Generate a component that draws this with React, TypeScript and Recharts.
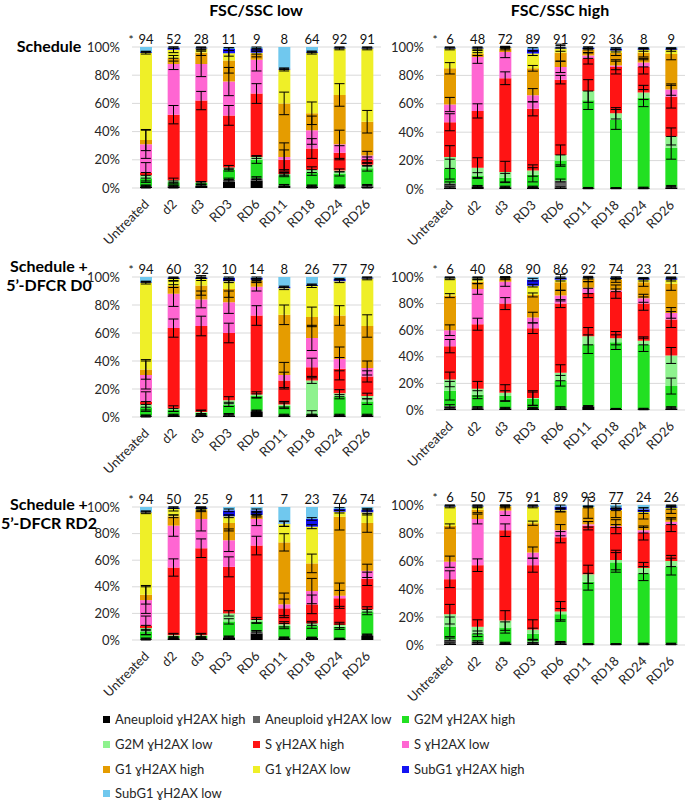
import React from 'react';
import { ComposedChart, Bar, Line, ErrorBar, XAxis, YAxis, CartesianGrid, LabelList } from 'recharts';

const FONT = "Lato, 'Noto Sans', sans-serif";

const categories = ['Untreated', 'd2', 'd3', 'RD3', 'RD6', 'RD11', 'RD18', 'RD24', 'RD26'];
const seriesNames = [
  'Aneuploid ɣH2AX high', 'Aneuploid ɣH2AX low', 'G2M ɣH2AX high',
  'G2M ɣH2AX low', 'S ɣH2AX high', 'S ɣH2AX low',
  'G1 ɣH2AX high', 'G1 ɣH2AX low', 'SubG1 ɣH2AX high',
  'SubG1 ɣH2AX low',
];
const seriesColors = ['#000000', '#636363', '#22e022', '#8ef28e', '#ff1414', '#ff66d2', '#e59c00', '#efef28', '#1414f2', '#70c8ee'];
const yTicks = [0, 20, 40, 60, 80, 100];

// ---------- Panel 1: Schedule, FSC/SSC low ----------
const p1_counts = [94, 52, 28, 11, 9, 8, 64, 92, 91];
const p1_aneuH = [1, 1, 1.5, 4.5, 5, 1.5, 1, 1, 1];
const p1_aneuL = [0.5, 0.5, 0.5, 1.5, 2, 0.5, 0.5, 0.5, 1];
const p1_g2mH = [5.5, 2.5, 1.5, 7, 13, 7, 9.5, 8.5, 12];
const p1_g2mL = [2, 1.5, 0.5, 1.5, 2, 1, 2, 2.5, 2.5];
const p1_sH = [2, 46.5, 58, 37, 45, 10, 15, 12.5, 3.5];
const p1_sL = [20, 36, 26, 24, 24, 2, 13, 6, 3];
const p1_g1H = [3, 4, 8, 15, 4, 38, 12, 35, 24];
const p1_g1L = [62, 6, 3, 5, 1, 24, 43, 33, 52];
const p1_subH = [0.5, 1.5, 0.5, 3, 3, 0.5, 0.5, 0.5, 0.5];
const p1_subL = [3.5, 0.5, 0.5, 1.5, 1, 15.5, 3.5, 0.5, 0.5];
const p1e_aneuH = [1, 1, 1, 1.5, 2, 1, 1, 1, 1];
const p1e_aneuL = [0.5, 0.5, 0.5, 1, 1, 0.5, 0.5, 0.5, 0.5];
const p1e_g2mH = [2, 1, 1, 1, 2.5, 1, 2, 1.5, 2];
const p1e_g2mL = [2, 1.5, 0.5, 1.5, 1, 1, 2, 1, 1];
const p1e_sH = [7, 6.5, 6.5, 7, 7, 7, 7, 5, 2];
const p1e_sL = [10, 4, 9, 10, 8, 10, 10, 10, 3];
const p1e_g1H = [7.5, 2, 2, 9, 2, 8, 8, 8, 8];
const p1e_g1L = [1, 2, 1, 2, 1, 1, 1, 1, 1];
const p1e_subH = [0.3, 0.5, 0.3, 1, 1, 0.5, 0.5, 0.3, 0.3];

// ---------- Panel 2: Schedule, FSC/SSC high ----------
const p2_counts = [6, 48, 72, 89, 91, 92, 36, 8, 9];
const p2_aneuH = [1, 1.5, 1, 1, 1, 0.5, 0.5, 0.5, 1];
const p2_aneuL = [3, 0.5, 0.5, 0.5, 5, 0.3, 0.2, 0.5, 1];
const p2_g2mH = [10, 7.5, 6.5, 8.5, 14, 61.7, 48.3, 63, 27];
const p2_g2mL = [8.5, 5.5, 4, 3, 4, 6.5, 4.3, 4, 8];
const p2_sH = [24.5, 40, 66, 43.5, 53, 23, 32.7, 18, 28];
const p2_sL = [12.5, 38, 18.5, 9.5, 9, 2, 1, 3, 5];
const p2_g1H = [25.5, 2, 2.5, 19, 10, 4, 9, 7, 25];
const p2_g1L = [14, 4, 0.5, 10.5, 3, 0.5, 1.5, 2, 3];
const p2_subH = [0.5, 0.5, 0.3, 3, 0.5, 1, 1.5, 1, 1];
const p2_subL = [0.5, 0.5, 0.2, 1.5, 0.5, 0.5, 1, 1, 1];
const p2e_aneuH = [0.5, 0.5, 0.5, 0.5, 0.5, 0.3, 0.3, 0.3, 0.5];
const p2e_aneuL = [1, 0.5, 0.5, 0.5, 1, 0.3, 0.2, 0.3, 0.5];
const p2e_g2mH = [7, 2, 3, 5, 4, 6.5, 7, 6, 8];
const p2e_g2mL = [8, 7, 7.5, 4, 7, 8, 4, 5, 6];
const p2e_sH = [6, 5, 4.5, 5, 3, 4, 5, 5, 8];
const p2e_sL = [5, 4.5, 4, 4.7, 4, 2, 3, 3, 4];
const p2e_g1H = [4, 1, 1, 2, 6, 2, 2, 3, 4];
const p2e_g1L = [1, 1, 0.5, 1.5, 2, 0.5, 1, 1, 1];
const p2e_subH = [0.3, 0.3, 0.2, 1, 0.3, 0.5, 0.5, 0.5, 0.5];

// ---------- Panel 3: Schedule + 5'-DFCR D0, low ----------
const p3_counts = [94, 60, 32, 10, 14, 8, 26, 77, 79];
const p3_aneuH = [0.5, 1, 1, 1, 3.5, 1, 1, 1, 1];
const p3_aneuL = [0.5, 0.5, 0.5, 1, 1, 0.5, 0.5, 0.5, 0.5];
const p3_g2mH = [6, 3.5, 1.5, 7, 10.5, 6.5, 1, 13, 9.5];
const p3_g2mL = [2, 1, 0.5, 3, 1, 1, 23.5, 2.5, 4];
const p3_sH = [2, 57.5, 61.5, 48, 56.5, 17, 9.5, 17.5, 14];
const p3_sL = [19, 24.5, 19, 22, 20.5, 4, 21, 7, 6];
const p3_g1H = [4, 5.5, 10, 9.5, 4.5, 43, 15, 31, 30];
const p3_g1L = [62, 5, 4.5, 5.5, 0.5, 19, 22, 24.5, 34];
const p3_subH = [0.5, 1, 1, 2.5, 1.5, 1, 1, 1.5, 0.5];
const p3_subL = [3.5, 0.5, 0.5, 0.5, 0.5, 7, 5.5, 1.5, 0.5];
const p3e_aneuH = [0.5, 0.5, 0.5, 0.5, 1, 0.5, 0.5, 0.5, 0.5];
const p3e_aneuL = [0.5, 0.5, 0.5, 0.5, 0.5, 0.5, 0.5, 0.5, 0.5];
const p3e_g2mH = [2, 1, 2, 1.5, 1.5, 2, 2, 1.5, 2];
const p3e_g2mL = [2, 2, 1, 2.5, 2, 2, 2, 2.5, 2];
const p3e_sH = [7, 6.5, 7, 7, 7, 6, 6.5, 8, 4];
const p3e_sL = [10, 9, 6, 8, 3, 9, 9, 8.5, 5];
const p3e_g1H = [7, 1, 7, 6, 1, 7, 7, 7, 8];
const p3e_g1L = [1, 1, 1, 1, 0.5, 1, 1, 1, 1];
const p3e_subH = [0.3, 0.5, 0.5, 0.5, 0.5, 0.5, 0.5, 0.5, 0.3];

// ---------- Panel 4: Schedule + 5'-DFCR D0, high ----------
const p4_counts = [6, 40, 68, 90, 86, 92, 74, 23, 21];
const p4_aneuH = [1, 1, 1, 1, 1, 2.5, 0.7, 0.5, 1];
const p4_aneuL = [2, 1, 0.5, 0.5, 1, 0.5, 0.3, 0.5, 1];
const p4_g2mH = [11.5, 9.5, 9, 7, 20, 46.5, 50, 48, 16];
const p4_g2mL = [8.5, 4.5, 2.5, 0.5, 6, 6, 3, 3, 23];
const p4_sH = [25, 48.5, 67, 52.5, 52, 32.5, 35, 28, 27];
const p4_sL = [12, 26.5, 16.5, 8, 6, 4, 1, 4, 5];
const p4_g1H = [26, 5.5, 2.5, 17, 10, 6.5, 8, 12, 22];
const p4_g1L = [13, 2.5, 0.5, 7, 2, 0.5, 0.5, 2, 3];
const p4_subH = [0.5, 0.5, 0.3, 4.5, 1.5, 0.7, 1, 1, 1];
const p4_subL = [0.5, 0.5, 0.2, 2, 0.5, 0.3, 0.5, 1, 1];
const p4e_aneuH = [0.5, 0.5, 0.5, 0.5, 0.5, 0.5, 0.3, 0.3, 0.5];
const p4e_aneuL = [1, 0.5, 0.5, 0.5, 0.5, 0.3, 0.2, 0.3, 0.5];
const p4e_g2mH = [7, 3, 4, 5, 4, 7, 5.5, 5, 6];
const p4e_g2mL = [5.5, 5.5, 6, 5.5, 6, 6.5, 5, 3, 6];
const p4e_sH = [5, 4.5, 4.5, 4, 3, 3.5, 5, 5, 6];
const p4e_sL = [4, 4, 3.5, 4, 4, 4.5, 1, 3, 4];
const p4e_g1H = [1.5, 1.5, 1, 1.5, 6, 2, 2, 3, 5];
const p4e_g1L = [1, 1, 0.5, 1, 1, 0.5, 0.5, 1, 1];
const p4e_subH = [0.3, 0.3, 0.2, 1, 0.5, 0.3, 0.5, 0.5, 0.5];

// ---------- Panel 5: Schedule + 5'-DFCR RD2, low ----------
const p5_counts = [94, 50, 25, 9, 11, 7, 23, 76, 74];
const p5_aneuH = [0.5, 1, 1, 1.5, 5, 1.3, 1.5, 0.8, 3];
const p5_aneuL = [0.5, 0.5, 0.5, 1, 1.5, 0.5, 0.3, 0.2, 1];
const p5_g2mH = [5, 1.5, 1.5, 11.5, 7.5, 8.7, 9, 9, 17];
const p5_g2mL = [3, 0.5, 0.5, 6, 1, 1.3, 1.7, 1.3, 2];
const p5_sH = [2, 51, 65.5, 35, 56, 12, 14.3, 20, 23];
const p5_sL = [19, 31.5, 22, 20, 20, 3, 10, 2, 6];
const p5_g1H = [4, 7, 6.5, 13, 2.5, 46.6, 20.8, 59.4, 36];
const p5_g1L = [62, 5.5, 1, 5, 0.5, 13.8, 27.6, 3.8, 8];
const p5_subH = [0.5, 1, 1, 4.5, 3.5, 0.3, 5.8, 2, 2];
const p5_subL = [3.5, 0.5, 0.5, 2.5, 2.5, 12.5, 9, 1.5, 2];
const p5e_aneuH = [0.5, 0.5, 0.5, 1, 2, 0.5, 0.5, 0.5, 1];
const p5e_aneuL = [0.5, 0.5, 0.5, 0.5, 0.5, 0.5, 0.3, 0.3, 0.5];
const p5e_g2mH = [2, 2, 2, 2, 1.5, 2, 2, 2, 2];
const p5e_g2mL = [2, 1, 1, 2, 2, 2, 1.5, 2, 2];
const p5e_sH = [7, 6.5, 7, 7.5, 7, 7, 7, 6, 5];
const p5e_sL = [10, 8, 9, 8.5, 5, 8.5, 9.5, 9.5, 5];
const p5e_g1H = [7, 1, 1, 6, 1, 6.5, 7, 10, 7];
const p5e_g1L = [1, 1.5, 1, 1, 0.5, 1.8, 1.5, 1, 2];
const p5e_subH = [0.3, 0.5, 0.5, 1, 1, 2, 1, 1, 1];

// ---------- Panel 6: Schedule + 5'-DFCR RD2, high ----------
const p6_counts = [6, 50, 75, 91, 89, 93, 77, 24, 26];
const p6_aneuH = [1, 1, 1, 1, 1, 0.5, 0.5, 0.5, 0.5];
const p6_aneuL = [3, 1.5, 0.5, 1.5, 1, 0.2, 0.2, 0.5, 0.5];
const p6_g2mH = [9, 5.5, 11, 5.5, 20, 44.5, 58.3, 50, 55];
const p6_g2mL = [9, 5, 5, 3, 2, 5.3, 1.7, 4, 4];
const p6_sH = [25, 44, 64.5, 46, 53, 34.7, 23.8, 25, 26];
const p6_sL = [12.5, 33, 14, 9, 5, 1, 0.5, 2, 2];
const p6_g1H = [25.5, 6.5, 3, 21, 14, 11.8, 11, 12, 9];
const p6_g1L = [14, 2.5, 0.3, 12, 0.5, 0.5, 0.5, 1, 1];
const p6_subH = [0.5, 0.5, 0.3, 0.5, 2.5, 0.5, 1.5, 2, 1];
const p6_subL = [0.5, 0.5, 0.4, 0.5, 1, 1, 2, 3, 1];
const p6e_aneuH = [0.5, 0.5, 0.5, 0.5, 0.5, 0.3, 0.3, 0.3, 0.3];
const p6e_aneuL = [1, 0.5, 0.5, 1, 0.5, 0.2, 0.2, 0.3, 0.3];
const p6e_g2mH = [7, 2, 4, 4, 4, 6, 7, 5, 6];
const p6e_g2mL = [7, 5, 7, 7, 7, 6.5, 7, 4, 4];
const p6e_sH = [6, 4.5, 4.5, 5, 4, 3, 5, 5, 5];
const p6e_sL = [4, 3.5, 3.5, 4, 4, 2, 1, 2, 2];
const p6e_g1H = [1.5, 2, 1, 1.5, 1, 7.5, 5, 4, 3];
const p6e_g1L = [1, 1, 0.5, 1, 1, 0.5, 0.5, 1, 1];
const p6e_subH = [0.3, 0.3, 0.2, 0.3, 1, 0.3, 0.5, 1, 0.5];

function buildRows(vals: number[][], errs: number[][], counts: number[]) {
  return categories.map((cat, i) => {
    const row: any = { cat, n: counts[i] };
    let cum = 0;
    vals.forEach((arr, k) => {
      cum += arr[i];
      row['v' + k] = arr[i];
      row['t' + k] = cum;
      row['e' + k] = errs[k] ? errs[k][i] : 0;
    });
    return row;
  });
}

const rows1 = buildRows(
  [p1_aneuH, p1_aneuL, p1_g2mH, p1_g2mL, p1_sH, p1_sL, p1_g1H, p1_g1L, p1_subH, p1_subL],
  [p1e_aneuH, p1e_aneuL, p1e_g2mH, p1e_g2mL, p1e_sH, p1e_sL, p1e_g1H, p1e_g1L, p1e_subH], p1_counts);
const rows2 = buildRows(
  [p2_aneuH, p2_aneuL, p2_g2mH, p2_g2mL, p2_sH, p2_sL, p2_g1H, p2_g1L, p2_subH, p2_subL],
  [p2e_aneuH, p2e_aneuL, p2e_g2mH, p2e_g2mL, p2e_sH, p2e_sL, p2e_g1H, p2e_g1L, p2e_subH], p2_counts);
const rows3 = buildRows(
  [p3_aneuH, p3_aneuL, p3_g2mH, p3_g2mL, p3_sH, p3_sL, p3_g1H, p3_g1L, p3_subH, p3_subL],
  [p3e_aneuH, p3e_aneuL, p3e_g2mH, p3e_g2mL, p3e_sH, p3e_sL, p3e_g1H, p3e_g1L, p3e_subH], p3_counts);
const rows4 = buildRows(
  [p4_aneuH, p4_aneuL, p4_g2mH, p4_g2mL, p4_sH, p4_sL, p4_g1H, p4_g1L, p4_subH, p4_subL],
  [p4e_aneuH, p4e_aneuL, p4e_g2mH, p4e_g2mL, p4e_sH, p4e_sL, p4e_g1H, p4e_g1L, p4e_subH], p4_counts);
const rows5 = buildRows(
  [p5_aneuH, p5_aneuL, p5_g2mH, p5_g2mL, p5_sH, p5_sL, p5_g1H, p5_g1L, p5_subH, p5_subL],
  [p5e_aneuH, p5e_aneuL, p5e_g2mH, p5e_g2mL, p5e_sH, p5e_sL, p5e_g1H, p5e_g1L, p5e_subH], p5_counts);
const rows6 = buildRows(
  [p6_aneuH, p6_aneuL, p6_g2mH, p6_g2mL, p6_sH, p6_sL, p6_g1H, p6_g1L, p6_subH, p6_subL],
  [p6e_aneuH, p6e_aneuL, p6e_g2mH, p6e_g2mL, p6e_sH, p6e_sL, p6e_g1H, p6e_g1L, p6e_subH], p6_counts);

const CatTick = (props: any) => {
  const { x, y, payload } = props;
  const ax = x + 4;
  const ay = y + 9;
  return (
    <text x={ax} y={ay} transform={`rotate(-45, ${ax}, ${ay})`} textAnchor="end"
      fontSize={13} fill="#262626" fontFamily={FONT}>{payload.value}</text>
  );
};

const CountLabel = (props: any) => {
  const { x, y, width, value, index } = props;
  const cx = Number(x) + Number(width) / 2;
  return (
    <g>
      <text x={cx} y={Number(y) - 3} textAnchor="middle" fontSize={13} fill="#111" fontFamily={FONT}>{value}</text>
      {index === 0 ? (
        <text x={cx - 15} y={Number(y) - 3} textAnchor="middle" fontSize={12} fill="#111" fontFamily={FONT}>*</text>
      ) : null}
    </g>
  );
};

const Y_W = 46;
const M_TOP = 26;
const X_H = 70;
const PLOT_W = 249;

function Panel({ rows, left, top, plotH }: { rows: any[]; left: number; top: number; plotH: number }) {
  const width = Y_W + PLOT_W + 2;
  const height = M_TOP + plotH + X_H;
  return (
    <div style={{ position: 'absolute', left: left - Y_W, top: top - M_TOP }}>
      <ComposedChart width={width} height={height} data={rows}
        margin={{ top: M_TOP, right: 2, left: 0, bottom: 0 }} barSize={12}>
        <CartesianGrid vertical={false} stroke="#d9d9d9" />
        <XAxis dataKey="cat" height={X_H} interval={0} tick={<CatTick />} axisLine={false} tickLine={false} />
        <YAxis width={Y_W} domain={[0, 100]} ticks={yTicks} allowDataOverflow
          tickFormatter={(v: number) => v + '%'} axisLine={false} tickLine={false} tickMargin={6}
          tick={{ fontSize: 13, fill: '#262626', fontFamily: FONT }} />
        {seriesColors.map((c, k) => (
          <Bar key={'b' + k} dataKey={'v' + k} stackId="a" fill={c} isAnimationActive={false}>
            {k === 9 ? <LabelList dataKey="n" content={<CountLabel />} /> : null}
          </Bar>
        ))}
        {seriesColors.slice(0, 9).map((c, k) => (
          <Line key={'l' + k} dataKey={'t' + k} stroke="none" dot={false} activeDot={false}
            isAnimationActive={false} legendType="none">
            <ErrorBar dataKey={'e' + k} width={5} stroke="#000" strokeWidth={1} direction="y" isAnimationActive={false} />
          </Line>
        ))}
      </ComposedChart>
    </div>
  );
}

const legendCols = [103, 253, 402];
const legendRows = [719, 744, 769, 793];

export default function App() {
  const rowLabel: React.CSSProperties = {
    position: 'absolute', left: -2, width: 102, textAlign: 'center', whiteSpace: 'nowrap',
    fontFamily: FONT, fontWeight: 700, fontSize: 16, lineHeight: '19px', color: '#000',
  };
  const colTitle: React.CSSProperties = {
    position: 'absolute', top: 1, width: 200, textAlign: 'center',
    fontFamily: FONT, fontWeight: 700, fontSize: 16, lineHeight: '18px', color: '#000',
  };
  return (
    <div style={{ position: 'absolute', left: 0, top: 0, width: 685, height: 802, background: '#fff', overflow: 'hidden' }}>
      <div style={{ ...colTitle, left: 256 - 100 }}>FSC/SSC low</div>
      <div style={{ ...colTitle, left: 560 - 100 }}>FSC/SSC high</div>

      <div style={{ ...rowLabel, top: 36 }}>Schedule</div>
      <div style={{ ...rowLabel, top: 256 }}>Schedule +<br />5’-DFCR D0</div>
      <div style={{ ...rowLabel, top: 494 }}>Schedule +<br />5’-DFCR RD2</div>

      <Panel rows={rows1} left={132} top={47} plotH={141} />
      <Panel rows={rows2} left={436} top={47} plotH={142} />
      <Panel rows={rows3} left={132} top={277} plotH={140} />
      <Panel rows={rows4} left={436} top={277} plotH={133} />
      <Panel rows={rows5} left={132} top={507} plotH={133} />
      <Panel rows={rows6} left={436} top={505} plotH={140} />

      {seriesNames.map((name, i) => {
        const col = i % 3;
        const row = Math.floor(i / 3);
        return (
          <div key={name} style={{ position: 'absolute', left: legendCols[col], top: legendRows[row] - 9, height: 18, display: 'flex', alignItems: 'center', fontFamily: FONT, fontSize: 13, color: '#262626', whiteSpace: 'nowrap' }}>
            <span style={{ display: 'inline-block', width: 7, height: 7, background: seriesColors[i], marginRight: 5 }} />
            <span>{name}</span>
          </div>
        );
      })}
    </div>
  );
}
